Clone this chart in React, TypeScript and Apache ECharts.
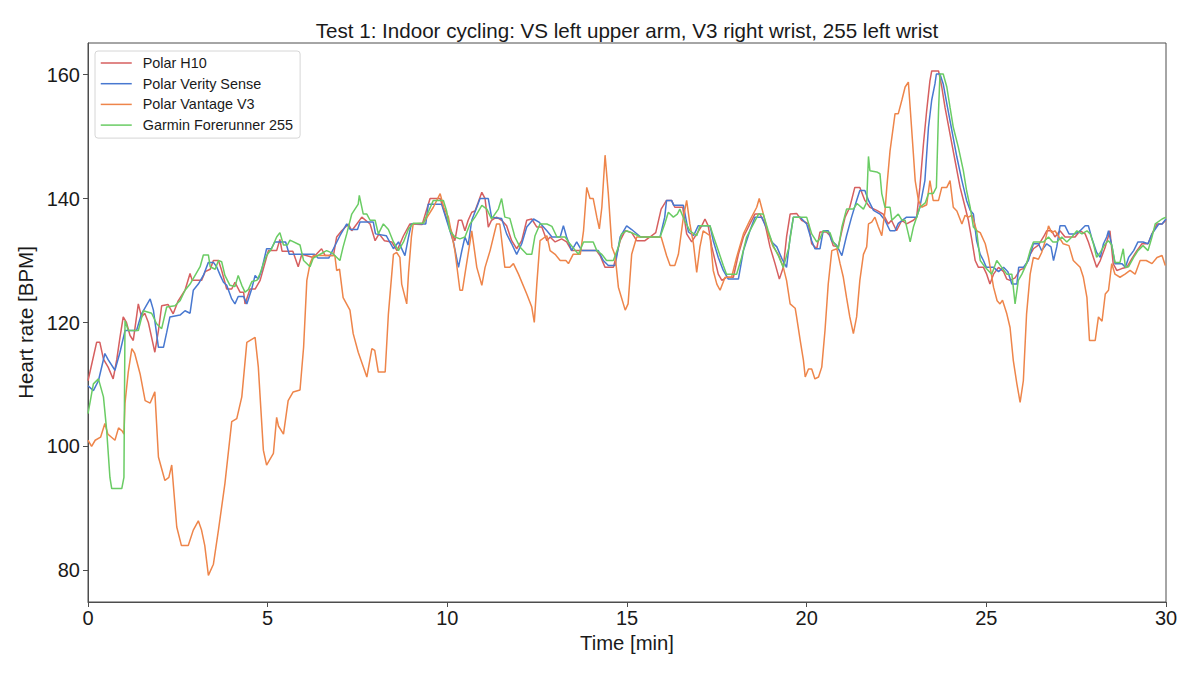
import React, { useEffect, useRef } from "react";
import * as echarts from "echarts";

const seriesNames = ["Polar H10", "Polar Verity Sense", "Polar Vantage V3", "Garmin Forerunner 255"];
const seriesColors = ["#D65F5F", "#4878D0", "#EE854A", "#6ACC64"];
const yTicks = [80, 100, 120, 140, 160];
const titleText = "Test 1: Indoor cycling: VS left upper arm, V3 right wrist, 255 left wrist";

// [time in min, heart rate in BPM]
const h10: [number, number][] = [
  [0,110.6],[0.24,116.8],[0.33,116.8],[0.43,114.1],[0.56,112.8],[0.7,110.9],[0.8,114],[0.89,117.6],[0.98,120.9],[1.07,120],[1.17,117.9],[1.26,117.1],[1.4,123],[1.49,120.9],[1.58,121.5],[1.68,120],[1.77,117.6],[1.86,115.2],[1.96,118.7],[2.05,122.7],[2.23,122.9],[2.37,121.4],[2.51,123.5],[2.7,125.2],[2.84,127.9],[2.9,126.8],[3.16,126.8],[3.26,128.2],[3.4,128.6],[3.49,130],[3.63,130],[3.72,128.4],[3.86,125.4],[4.0,125.4],[4.09,126.5],[4.23,124.9],[4.33,124.9],[4.37,123],[4.51,125.4],[4.65,125.4],[4.79,126.8],[4.93,129.7],[5.02,131.6],[5.25,131.6],[5.34,133.4],[5.4,131.5],[5.7,131.5],[5.85,129],[5.95,131],[6.27,130.5],[6.5,131.9],[6.6,130.8],[6.83,130.8],[6.92,133.8],[7.06,134.8],[7.25,135.9],[7.34,134.8],[7.48,135.9],[7.62,137],[7.85,135.9],[7.99,133.2],[8.1,134.3],[8.25,133.2],[8.45,133],[8.6,131.6],[8.78,134],[8.96,135.9],[9.3,135.8],[9.43,138.3],[9.52,140],[9.8,140],[9.94,137.5],[10.03,135.9],[10.12,134.6],[10.21,133.2],[10.31,136.5],[10.4,136.5],[10.49,134.8],[10.58,136.5],[10.68,137.8],[10.77,138],[10.86,139.4],[10.96,141],[11.05,140],[11.14,135.4],[11.23,136.5],[11.37,137],[11.51,136.5],[11.65,135.6],[11.79,133.2],[11.93,131.9],[12.07,133.2],[12.21,136.5],[12.35,136.7],[12.49,135.4],[12.63,135.4],[12.77,133.2],[12.86,133.8],[13.0,133],[13.18,133.5],[13.32,133],[13.46,131.6],[14.15,131.6],[14.25,130.8],[14.39,128.9],[14.62,128.9],[14.81,133.2],[14.95,134.8],[15.13,134.5],[15.27,133.2],[15.5,133.2],[15.64,133.8],[15.8,134.5],[15.95,138.3],[16.1,139.7],[16.24,139.7],[16.33,138.6],[16.55,138.6],[16.66,134.3],[16.8,133],[16.94,134.3],[17.08,135.6],[17.17,136.7],[17.26,135.6],[17.36,132.2],[17.45,130],[17.54,127.8],[17.64,126.8],[17.77,127.3],[17.96,127.3],[18.1,131],[18.24,133.8],[18.42,135.9],[18.56,137.5],[18.7,137.5],[18.84,135.9],[18.98,132.2],[19.12,129.5],[19.24,127],[19.35,128.9],[19.44,133.8],[19.54,137.5],[19.72,137.6],[19.86,136.5],[20.05,135.9],[20.14,132.7],[20.28,131.9],[20.37,134.6],[20.55,134.6],[20.65,134],[20.74,132.4],[20.88,132.2],[20.98,134.8],[21.07,137],[21.2,138.6],[21.34,141.8],[21.48,141.8],[21.62,139.7],[21.76,138.6],[21.95,138.1],[22.13,137.5],[22.27,135.9],[22.36,136.5],[22.5,134.8],[22.65,136.5],[22.78,135.9],[22.97,136.5],[23.06,137],[23.15,141.8],[23.25,148.8],[23.34,154.2],[23.43,159],[23.48,160.6],[23.67,160.6],[23.76,158],[23.85,154.7],[23.99,150.4],[24.13,146.1],[24.27,141.8],[24.41,138.6],[24.5,136.5],[24.6,133.2],[24.69,130],[24.78,128.9],[24.92,128.9],[25.01,127.8],[25.1,126.2],[25.2,127.8],[25.34,128.9],[25.48,128.2],[25.57,127],[25.66,126.8],[25.8,127.2],[25.94,128.5],[26.03,128.7],[26.12,129.5],[26.22,131],[26.31,131.9],[26.45,132.5],[26.59,133.8],[26.68,134.8],[26.82,134.8],[26.91,133.8],[27.05,134.8],[27.19,133.8],[27.47,133.8],[27.61,134.8],[27.75,134.3],[27.84,133],[27.98,130.5],[28.07,128.9],[28.17,130],[28.31,132.2],[28.44,134.8],[28.53,129.5],[28.63,128.4],[28.77,128.7],[28.91,128.9],[29.05,130.3],[29.19,131.6],[29.33,132.7],[29.5,132.7],[29.61,134.3],[29.75,135.9],[29.89,135.9],[30,136.5]
];

const verity: [number, number][] = [
  [0,109.8],[0.15,109],[0.29,110.6],[0.47,115],[0.56,114],[0.75,112.3],[0.89,115.2],[1.03,118.7],[1.35,118.7],[1.49,121.4],[1.73,123.8],[1.82,122],[1.96,116],[2.1,116],[2.19,118.4],[2.28,120.9],[2.56,121.2],[2.7,121.9],[2.84,121.5],[2.93,125.2],[3.07,126.2],[3.21,127.6],[3.35,129.7],[3.49,129.7],[3.58,129],[3.68,127.6],[3.77,126.5],[3.86,126],[4.0,123.8],[4.09,123],[4.18,124.2],[4.33,124.2],[4.42,123],[4.56,125.5],[4.65,127.6],[4.74,127],[4.83,128.4],[4.97,131.9],[5.1,131.9],[5.2,133],[5.5,133],[5.6,131],[6.3,131],[6.4,130.4],[6.7,130.4],[6.83,131.9],[7.01,134],[7.2,135.9],[7.3,135],[7.5,135],[7.57,136.2],[7.94,136.2],[8.0,134.3],[8.3,134],[8.5,131.9],[8.64,133],[8.82,130.8],[8.92,133.8],[9.0,135.9],[9.4,135.9],[9.47,139.1],[9.84,139.1],[9.98,136.5],[10.17,133],[10.31,128.9],[10.4,131.5],[10.49,133.8],[10.58,132.5],[10.68,136.5],[10.82,138.6],[10.91,140],[11.14,140],[11.23,137],[11.51,136.8],[11.65,134.3],[11.79,132.7],[11.93,131],[12.07,132.7],[12.21,135.4],[12.4,136.7],[12.55,136.2],[12.77,134.8],[12.91,133.8],[13.14,133.8],[13.23,135.6],[13.32,133.8],[13.46,131.6],[13.6,133],[13.74,131.6],[14.2,131.6],[14.34,130],[14.48,129.2],[14.67,129.2],[14.81,133.8],[14.99,135.6],[15.13,135],[15.38,133.8],[15.92,133.8],[16.05,137],[16.1,139.7],[16.24,139.7],[16.3,138.9],[16.57,138.9],[16.71,134.6],[16.85,134],[16.98,135.6],[17.31,135.6],[17.4,133.2],[17.54,130.5],[17.68,128.4],[17.82,127],[18.1,127],[18.24,131.6],[18.42,134.8],[18.56,137],[18.75,137],[18.89,135.1],[19.03,133],[19.17,132.2],[19.31,130.3],[19.44,128.9],[19.54,133.8],[19.63,137],[19.82,137],[20.0,135.9],[20.14,133.2],[20.23,131.9],[20.37,131.9],[20.46,134.8],[20.6,134.8],[20.7,133.2],[20.84,132.4],[20.98,130.8],[21.11,134],[21.25,137],[21.39,139.7],[21.48,141.3],[21.62,141.3],[21.72,139.7],[21.86,138.1],[22.04,137.5],[22.18,136.5],[22.32,134.8],[22.46,134.8],[22.55,136],[22.78,137],[23.06,137],[23.15,138.6],[23.29,142.9],[23.39,151.5],[23.48,155.9],[23.57,158.5],[23.61,160.1],[23.71,160.1],[23.8,158.5],[23.9,155.3],[24.04,151],[24.18,146.7],[24.32,142.9],[24.45,139.7],[24.55,138.1],[24.64,137.5],[24.73,133.2],[24.83,131],[24.92,130],[25.0,128.9],[25.2,128.9],[25.34,128.2],[25.48,128.9],[25.6,128.2],[25.71,126.2],[25.85,126.2],[25.9,128.9],[26.03,128.9],[26.17,130],[26.31,132.7],[26.45,132.7],[26.54,131.6],[26.68,132.7],[26.8,132.2],[26.87,130],[26.96,132.2],[27.05,135.6],[27.19,135.6],[27.3,134.3],[27.47,134.3],[27.61,134.8],[27.75,135.6],[27.84,135.6],[27.94,133.5],[28.07,131.3],[28.17,130.5],[28.26,132.7],[28.35,133.8],[28.4,134.8],[28.5,132.2],[28.58,129.5],[28.77,129.5],[28.87,128.9],[28.96,130.5],[29.1,131.6],[29.22,133],[29.36,133],[29.5,132.7],[29.61,134.3],[29.8,135.9],[29.89,135.9],[30,136.7]
];

const vantage: [number, number][] = [
  [0,101],[0.1,100],[0.2,101],[0.35,101.5],[0.47,103.7],[0.55,102],[0.75,101],[0.85,103],[0.95,102.5],[1.0,102],[1.03,107],[1.12,112],[1.22,115.8],[1.3,115],[1.35,113.9],[1.45,111.7],[1.59,107.4],[1.73,107],[1.86,108.8],[1.96,98.3],[2.14,94.5],[2.25,95],[2.33,97],[2.47,87],[2.6,84],[2.79,84],[2.93,86.5],[3.07,88],[3.16,86.5],[3.25,84],[3.35,79.2],[3.49,81],[3.63,86.5],[3.81,94],[4.0,104],[4.14,104.5],[4.28,108],[4.42,116.8],[4.65,117.6],[4.74,112.8],[4.88,99.4],[4.97,97],[5.16,98.9],[5.25,104.7],[5.3,103.3],[5.44,102],[5.57,107.4],[5.71,108.8],[5.9,109.1],[6.0,116],[6.09,126.8],[6.18,129.5],[6.27,130.8],[6.87,130.8],[6.92,128.4],[7.0,128.6],[7.1,124],[7.29,122],[7.38,118.2],[7.52,115.2],[7.76,111.2],[7.9,115.8],[7.98,115.5],[8.08,112],[8.27,112],[8.36,121.4],[8.5,131],[8.59,131.3],[8.68,130.5],[8.73,126.2],[8.87,123],[8.92,128],[9.0,133.8],[9.05,135.9],[9.33,136],[9.61,138.6],[9.8,140.8],[9.9,138.6],[10.03,137],[10.21,131.6],[10.35,125.2],[10.42,125.2],[10.49,127.8],[10.68,134.8],[10.82,128.9],[10.96,126],[11.05,128.9],[11.19,131.6],[11.37,135.9],[11.46,135.9],[11.6,128.9],[11.74,128.9],[11.84,129.5],[11.98,127.8],[12.21,124.6],[12.35,122.5],[12.42,120],[12.49,126.2],[12.58,133.2],[12.77,134],[12.86,131.6],[13.0,131],[13.14,130],[13.3,130],[13.37,129.5],[13.5,131],[13.7,131],[13.79,134.8],[13.88,141.8],[13.97,140],[14.06,140],[14.16,137],[14.23,135.1],[14.3,138.6],[14.39,147],[14.48,140.8],[14.58,132.2],[14.67,130.8],[14.76,125.7],[14.95,122],[15.03,123],[15.13,131],[15.27,133.8],[15.95,133.8],[16.1,130.8],[16.2,129.2],[16.33,129.2],[16.43,131],[16.57,137],[16.66,139.7],[16.75,135.9],[16.85,132.7],[16.94,128.1],[17.03,132.2],[17.12,134.8],[17.31,134],[17.4,128.4],[17.5,126.2],[17.59,125.2],[17.73,127.3],[17.91,127.3],[18.05,130.5],[18.24,134.3],[18.42,136.5],[18.61,138.6],[18.68,140],[18.79,137.6],[18.93,134.3],[19.07,132.2],[19.21,131],[19.35,128.9],[19.44,126.8],[19.54,123],[19.68,122.3],[19.72,120.9],[19.82,117.1],[19.91,113.9],[19.96,111.2],[20.05,112.5],[20.14,112.5],[20.23,110.9],[20.33,111.2],[20.42,112.8],[20.51,118.7],[20.6,126.2],[20.7,131.6],[20.84,131.9],[20.93,129.5],[21.02,127.3],[21.11,124],[21.2,120.9],[21.3,118.2],[21.39,120.9],[21.48,126.8],[21.58,131],[21.67,132.2],[21.72,135.9],[21.81,136.2],[21.9,137],[21.99,135.5],[22.09,134],[22.18,138],[22.23,141.8],[22.32,147.7],[22.46,153.7],[22.55,153.7],[22.65,155.9],[22.74,158],[22.83,158.8],[22.88,154.7],[22.97,147.2],[23.02,142.9],[23.11,139.7],[23.2,138.6],[23.34,139],[23.43,142.9],[23.52,139.7],[23.67,139.7],[23.76,141.8],[23.9,141.8],[23.99,142.9],[24.08,138.6],[24.18,138],[24.32,135.9],[24.41,137.3],[24.5,137],[24.6,137.3],[24.73,134.8],[24.83,134.5],[24.97,132.7],[25.06,130.5],[25.2,125.7],[25.3,123.5],[25.38,123],[25.45,123.6],[25.57,121.4],[25.66,119.2],[25.75,113.9],[25.85,110.1],[25.94,107.1],[26.03,110.6],[26.12,121.4],[26.22,127.8],[26.31,130.5],[26.45,130.2],[26.54,131.3],[26.63,133],[26.73,135.6],[26.82,134.5],[26.91,134.8],[27.0,134],[27.14,132.7],[27.3,132.4],[27.42,130],[27.61,128.9],[27.7,127.3],[27.8,124],[27.87,117.1],[28.03,117.1],[28.12,120.9],[28.22,120.2],[28.31,124.6],[28.4,125.2],[28.49,129.5],[28.58,127.8],[28.72,127.3],[28.86,127.8],[29.0,128.4],[29.14,127.8],[29.28,130],[29.45,130],[29.61,129.5],[29.75,130.5],[29.89,130.8],[29.98,129.2]
];

const forerunner: [number, number][] = [
  [0,105.3],[0.15,110.1],[0.29,110.9],[0.43,108],[0.52,102.6],[0.61,95],[0.66,93.2],[0.94,93.2],[1.0,95],[1.03,120.3],[1.12,118.7],[1.4,118.7],[1.54,121.9],[1.77,121.5],[1.91,119.8],[2.05,119],[2.19,122.5],[2.42,122.7],[2.56,123.5],[2.7,125.2],[2.84,126.2],[2.98,127.6],[3.12,129],[3.21,130.9],[3.35,130.9],[3.4,129],[3.54,128.6],[3.63,130],[3.72,129.8],[3.81,127.6],[3.95,126],[4.09,125.8],[4.18,127.6],[4.28,126],[4.37,124.9],[4.46,125.3],[4.56,126.6],[4.7,126.8],[4.79,127.9],[4.88,129.5],[4.97,130.8],[5.11,131.9],[5.25,133.8],[5.34,134.5],[5.44,132.5],[5.55,132.5],[5.62,133.3],[5.9,132.5],[6.0,130],[6.18,129],[6.27,130.4],[6.55,131.3],[6.64,131.6],[6.8,131.2],[7.01,130],[7.1,132.2],[7.2,134.3],[7.34,137.5],[7.52,139.1],[7.55,140.5],[7.66,137.5],[7.76,137.5],[7.85,136.5],[7.99,136.5],[8.08,134.3],[8.22,135.9],[8.36,135],[8.5,133],[8.64,131.6],[8.78,133],[8.92,135.1],[9.05,136],[9.33,136],[9.43,137.3],[9.61,139.7],[9.89,139.7],[9.98,138],[10.07,134.8],[10.21,133.8],[10.35,133.5],[10.49,133.8],[10.63,135.9],[10.77,137],[10.96,138.9],[11.1,138.3],[11.23,136.7],[11.42,138.3],[11.51,140],[11.6,137],[11.74,136.8],[11.88,133.8],[12.02,132.2],[12.21,131],[12.35,131],[12.44,134],[12.58,135.9],[12.77,135.9],[12.91,135.5],[13.05,133.8],[13.28,133.8],[13.37,133],[13.51,132],[13.65,131],[13.79,133],[14.06,133],[14.16,131.6],[14.3,131],[14.43,130],[14.62,130],[14.76,132.2],[14.85,134.3],[14.99,134.8],[15.2,134.3],[15.38,133.8],[15.92,133.8],[16.05,135.9],[16.15,137.8],[16.29,137],[16.4,137.5],[16.47,138.3],[16.6,136.5],[16.75,134.8],[16.94,134],[17.03,135.6],[17.31,135.6],[17.4,134],[17.54,131.6],[17.68,129.2],[17.77,127.8],[18.05,127.8],[18.19,130.5],[18.33,133.8],[18.52,135.9],[18.66,137.5],[18.79,137.5],[18.93,134.8],[19.07,132.4],[19.21,130.8],[19.35,128.9],[19.5,132],[19.63,137],[20.0,137],[20.14,134.3],[20.28,133],[20.37,133.5],[20.46,134.8],[20.65,134.5],[20.74,133],[20.88,131.9],[20.98,135.4],[21.11,138.3],[21.3,138.3],[21.4,139.2],[21.58,138.3],[21.67,139.4],[21.72,146.8],[21.76,144.5],[21.95,144.3],[22.04,144],[22.09,140.8],[22.18,138.6],[22.32,138.6],[22.37,136.5],[22.46,137],[22.55,137.5],[22.65,136.5],[22.74,136.5],[22.83,134.3],[22.88,133],[22.97,135.4],[23.06,137],[23.15,138.6],[23.3,139.3],[23.39,140.8],[23.52,140.8],[23.61,141.8],[23.67,154.2],[23.71,160.1],[23.8,160.1],[23.9,158],[23.99,154.7],[24.08,151.5],[24.22,148.3],[24.36,144.5],[24.45,141.3],[24.55,138.6],[24.64,135.4],[24.73,134.8],[24.83,130],[24.97,128.9],[25.15,127.8],[25.29,130],[25.43,128.9],[25.57,127.8],[25.71,127.8],[25.75,125.7],[25.8,123],[25.89,126.8],[25.99,127.8],[26.12,129.5],[26.22,131.6],[26.31,133],[26.59,133],[26.73,133.8],[26.85,133],[26.96,133],[27.1,133.8],[27.24,133],[27.38,133.8],[27.52,134.8],[27.66,134.3],[27.8,134.8],[27.89,134.3],[27.98,132.7],[28.07,130.5],[28.17,131.3],[28.31,132.7],[28.4,133.2],[28.49,132.5],[28.58,129.7],[28.72,129.7],[28.81,131.9],[28.87,128.9],[28.96,129],[29.1,130.5],[29.22,131.6],[29.36,132.4],[29.5,131.6],[29.61,133.8],[29.7,135.9],[29.89,136.7],[30,137]
];

const allSeries = [h10, verity, vantage, forerunner];

const FONT = "'Liberation Sans', Arial, Helvetica, sans-serif";
const AXIS_COLOR = "#4d4d4d";
const TEXT_COLOR = "#1a1a1a";

const GRID_LEFT = 88;
const GRID_RIGHT = 34;

export default function App() {
  const ref = useRef<HTMLDivElement>(null);

  useEffect(() => {
    document.body.style.margin = "0";
    if (!ref.current) return;
    const chart = echarts.init(ref.current, undefined, { renderer: "svg" });
    const plotCenterX = GRID_LEFT + (1200 - GRID_LEFT - GRID_RIGHT) / 2;
    chart.setOption({
      animation: false,
      backgroundColor: "#ffffff",
      textStyle: { fontFamily: FONT },
      graphic: [
        {
          type: "text",
          x: plotCenterX,
          y: 30.5,
          silent: true,
          style: {
            text: titleText,
            align: "center",
            verticalAlign: "middle",
            fontFamily: FONT,
            fontSize: 20.6,
            fill: TEXT_COLOR,
          },
        },
      ],
      legend: {
        orient: "vertical",
        left: 95,
        top: 51,
        padding: [5, 7, 6, 5],
        itemGap: 6.7,
        itemWidth: 31,
        itemHeight: 14,
        backgroundColor: "rgba(255,255,255,0.8)",
        borderColor: "#d6d6d6",
        borderWidth: 1,
        borderRadius: 3,
        data: seriesNames,
        itemStyle: { opacity: 0 },
        lineStyle: { width: 1.5, opacity: 1 },
        textStyle: { fontFamily: FONT, fontSize: 14.4, color: TEXT_COLOR, padding: [0, 0, 0, 6] },
      },
      grid: {
        left: GRID_LEFT,
        right: GRID_RIGHT,
        top: 43,
        bottom: 73,
        show: true,
        borderColor: AXIS_COLOR,
        borderWidth: 1,
        containLabel: false,
      },
      xAxis: {
        type: "value",
        min: 0,
        max: 30,
        interval: 5,
        name: "Time [min]",
        nameLocation: "middle",
        nameGap: 27,
        nameTextStyle: { fontFamily: FONT, fontSize: 20.3, color: TEXT_COLOR },
        axisLine: { show: true, lineStyle: { color: AXIS_COLOR, width: 1 } },
        axisTick: { show: true, inside: false, length: 5, lineStyle: { color: AXIS_COLOR } },
        axisLabel: { fontFamily: FONT, fontSize: 20, color: TEXT_COLOR, margin: 6 },
        splitLine: { show: false },
      },
      yAxis: {
        type: "value",
        min: 74.9,
        max: 165.1,
        name: "Heart rate [BPM]",
        nameLocation: "middle",
        nameGap: 31,
        nameTextStyle: { fontFamily: FONT, fontSize: 20.5, color: TEXT_COLOR },
        axisLine: { show: true, lineStyle: { color: AXIS_COLOR, width: 1 } },
        axisTick: { show: true, inside: false, length: 5, lineStyle: { color: AXIS_COLOR }, customValues: yTicks },
        axisLabel: { fontFamily: FONT, fontSize: 20, color: TEXT_COLOR, margin: 8, customValues: yTicks },
        splitLine: { show: false },
      },
      series: allSeries.map((d, i) => ({
        name: seriesNames[i],
        type: "line",
        data: d,
        showSymbol: false,
        symbol: "none",
        smooth: false,
        color: seriesColors[i],
        lineStyle: { color: seriesColors[i], width: 1.5 },
        z: 2 + i,
      })),
    });
    return () => chart.dispose();
  }, []);

  return <div ref={ref} style={{ width: 1200, height: 675 }} />;
}
